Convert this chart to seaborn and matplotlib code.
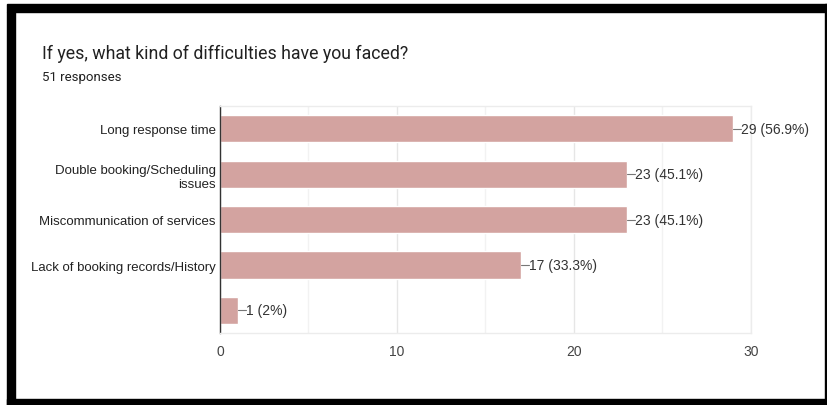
import pandas as pd
import seaborn as sns
import matplotlib.pyplot as plt
from matplotlib.patches import Rectangle

# Data
categories = ['Long response time', 'Double booking/Scheduling\nissues',
              'Miscommunication of services', 'Lack of booking records/History', '']
counts = [29, 23, 23, 17, 1]
percents = ['56.9%', '45.1%', '45.1%', '33.3%', '2%']
total_responses = 51

data = pd.DataFrame({'Difficulty': categories, 'Count': counts})

sns.set_theme(style="white")
plt.rcParams['font.family'] = ['Liberation Sans', 'DejaVu Sans']

fig = plt.figure(figsize=(8.27, 4.06), dpi=100)
ax = fig.add_axes([0.266, 0.177, 0.642, 0.559])

sns.barplot(data=data, x='Count', y='Difficulty', orient='h', color='#d3a3a0',
            saturation=1, width=0.6, ax=ax)

ax.set_xlim(0, 30)
ax.set_ylim(4.5, -0.5)
ax.set_xticks([0, 10, 20, 30])
ax.set_xticks([5, 15, 25], minor=True)
ax.set_yticks(range(len(categories)))
ax.set_yticklabels(categories, multialignment='right', linespacing=1.3)
ax.grid(axis='x', which='major', color='#e6e6e6', linewidth=1)
ax.grid(axis='x', which='minor', color='#f2f2f2', linewidth=1)
ax.set_axisbelow(True)
ax.set_xlabel('')
ax.set_ylabel('')
ax.tick_params(axis='x', colors='#444444', labelsize=10, length=0, pad=8)
ax.tick_params(axis='y', colors='#222222', labelsize=9.5, length=0, pad=3)

for side in ['top', 'right', 'bottom']:
    ax.spines[side].set_color('#ececec')
    ax.spines[side].set_linewidth(1)
ax.spines['left'].set_color('#333333')
ax.spines['left'].set_linewidth(1)

# value labels with short leader lines
for i, (c, p) in enumerate(zip(counts, percents)):
    ax.plot([c, c + 0.45], [i, i], color='#777777', linewidth=0.8, clip_on=False)
    ax.text(c + 0.45, i, f'{c} ({p})', va='center', ha='left', fontsize=10,
            color='#333333', clip_on=False)

title_font = ['Roboto', 'DejaVu Sans']
fig.text(0.051, 0.868, 'If yes, what kind of difficulties have you faced?',
         fontsize=12.8, color='#212121', family=title_font, va='center')
fig.text(0.051, 0.81, f'{total_responses} responses', fontsize=9.5,
         color='#212121', family=title_font, va='center')

# black frame of the screenshot
for x, y, w, h in [(0.0085, 0.0, 0.0097, 0.968), (0.0085, 0.0, 0.9915, 0.0148),
                   (0.0085, 0.968, 0.9915, 0.0197), (0.9976, 0.0, 0.0024, 0.988)]:
    fig.patches.append(Rectangle((x, y), w, h, transform=fig.transFigure,
                                 color='black', zorder=10))

fig.savefig('out.png', dpi=100)
